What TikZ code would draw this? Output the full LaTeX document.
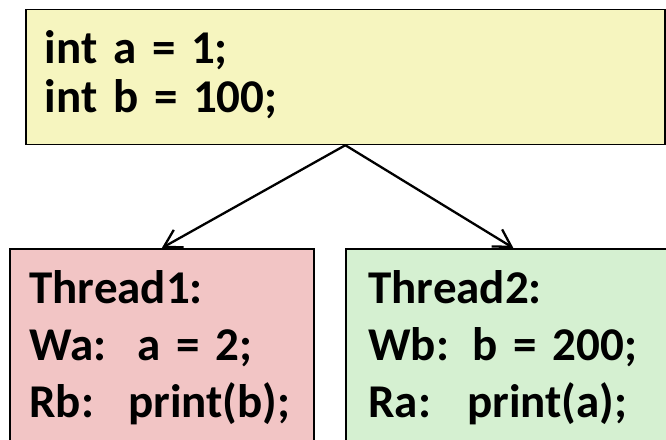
\documentclass[tikz,border=0pt]{standalone}
\usepackage{fontspec}
\setmainfont{Carlito}
\usetikzlibrary{arrows.meta}

\definecolor{initfill}{HTML}{F6F5BF}
\definecolor{thonefill}{HTML}{F2C5C5}
\definecolor{thtwofill}{HTML}{D5F0D1}

\newcommand{\tabto}[1]{\makebox[99pt][l]{#1}}

\begin{document}
\begin{tikzpicture}[
    x=1pt, y=-1pt,
    codebox/.style={
      draw,
      line width=1.7pt,
      anchor=north west,
      align=left,
      inner xsep=19.5pt,
      inner ysep=0pt,
      text height=55pt,
      font=\fontsize{47}{57}\selectfont\bfseries
    },
    fork/.style={
      line width=2.3pt,
      -{Straight Barb[length=17pt,width=20pt]}
    }
  ]
  \useasboundingbox (0,0) rectangle (666,439);

  \node (init) [codebox, fill=initfill, text width=601pt, text height=54.5pt,
    text depth=80.5pt, inner xsep=19pt, font=\fontsize{47}{49}\selectfont\bfseries]
    at (25,8.5) {int a = 1;\\int b = 100;};

  \node (thone) [codebox, fill=thonefill, text width=265pt, text depth=162pt]
    at (9,248) {Thread1:\\Wa:\ \ a = 2;\\\tabto{Rb:}print(b);};

  \node (thtwo) [codebox, fill=thtwofill, text width=290pt, text depth=162pt,
    inner xsep=22.5pt] at (345,248)
    {Thread2:\\Wb: b = 200;\\\tabto{Ra:}print(a);};

  \draw[fork] (init.south) -- (thone.north);
  \draw[fork] (init.south) -- (thtwo.north);
\end{tikzpicture}
\end{document}
